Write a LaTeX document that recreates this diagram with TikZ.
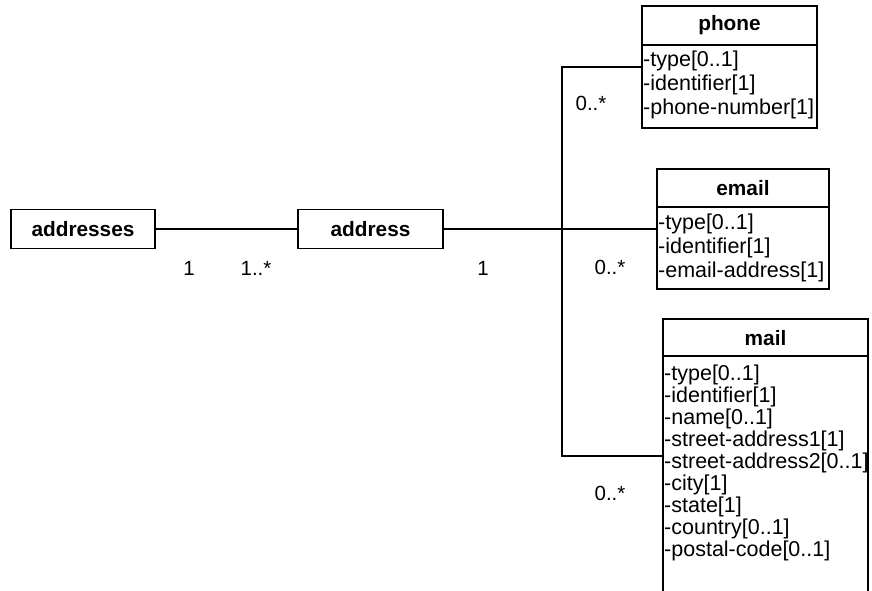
\documentclass[tikz,border=0pt]{standalone}
\usepackage{fontspec}
\setmainfont{Liberation Sans}
\begin{document}
\begin{tikzpicture}[x=1pt,y=-1pt,
  every node/.style={font=\fontsize{20.5}{24}\selectfont},
  simplebox/.style={draw,line width=1.5pt,inner sep=0pt,font=\fontsize{20.8}{24}\selectfont\bfseries},
  classbox/.style={draw,line width=1.5pt,inner sep=0pt},
  classtitle/.style={font=\fontsize{20.8}{24}\selectfont\bfseries,inner sep=0pt},
  attr/.style={anchor=west,inner sep=1pt,font=\fontsize{21.5}{24}\selectfont},
  mult/.style={inner sep=0pt},
  conn/.style={line width=1.2pt}]
\useasboundingbox (0,0) rectangle (872,590);

% simple boxes
\node[simplebox,minimum width=144pt,minimum height=39pt] (addresses) at (83,229) {addresses};
\node[simplebox,minimum width=145pt,minimum height=39pt] (address) at (370.5,229) {address};

% phone class
\node[classbox,minimum width=175pt,minimum height=122pt] (phone) at (729.5,67) {};
\draw[line width=1.2pt] (642,45) -- (817,45);
\node[classtitle] (phonetitle) at (729.5,25.5) {phone};
\node[attr] (p1) at (642,61) {-type[0..1]};
\node[attr] (p2) at (642,85) {-identifier[1]};
\node[attr] (p3) at (642,109) {-phone-number[1]};

% email class
\node[classbox,minimum width=172pt,minimum height=120pt] (email) at (743,229) {};
\draw[line width=1.2pt] (657,207) -- (829,207);
\node[classtitle] (emailtitle) at (743,188) {email};
\node[attr] (e1) at (657,224) {-type[0..1]};
\node[attr] (e2) at (657,248) {-identifier[1]};
\node[attr] (e3) at (657,272) {-email-address[1]};

% mail class (cut off at bottom)
\begin{scope}
\clip (0,0) rectangle (872,590);
\node[classbox,minimum width=205pt,minimum height=274pt] (mail) at (765.5,456) {};
\end{scope}
\draw[line width=1.2pt] (663,356) -- (868,356);
\node[classtitle] (mailtitle) at (765.5,338) {mail};
\foreach \t [count=\i] in {-type[0..1],-identifier[1],-name[0..1],-street-address1[1],-street-address2[0..1],-city[1],-state[1],-country[0..1],-postal-code[0..1]}
  \node[attr] (m\i) at (663,{353+22*\i}) {\t};

% connectors
\coordinate (J) at (562,229);
\draw[conn] (addresses.east) -- (address.west);
\draw[conn] (address.east) -- (email.west);
\draw[conn] (phone.west) -| (J) |- (mail.west);

% multiplicities
\node[mult] (m_a1) at (189,268) {1};
\node[mult] (m_a2) at (256,268) {1..*};
\node[mult] (m_ad) at (483,268) {1};
\node[mult] (m_ph) at (591,103) {0..*};
\node[mult] (m_em) at (610,267) {0..*};
\node[mult] (m_ma) at (610,493) {0..*};
\end{tikzpicture}
\end{document}
